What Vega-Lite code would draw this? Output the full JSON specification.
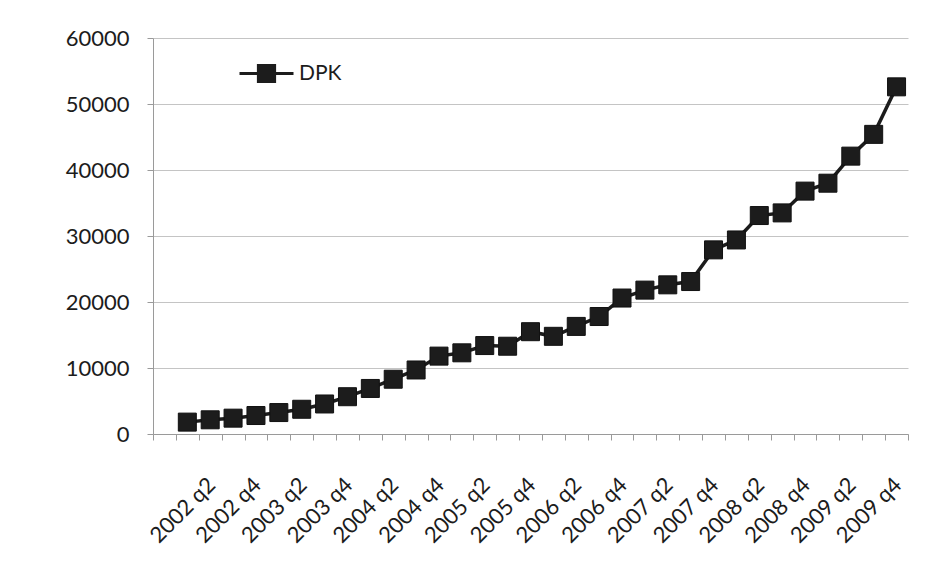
{
  "$schema": "https://vega.github.io/schema/vega-lite/v6.json",
  "autosize": "none",
  "width": 755,
  "height": 396,
  "padding": {"left": 153, "top": 38, "right": 31, "bottom": 133},
  "background": "#ffffff",
  "config": {
    "view": {"stroke": null},
    "font": "Lato",
    "axis": {
      "labelFont": "Lato",
      "labelFontSize": 22,
      "labelColor": "#1c1c1c",
      "title": null,
      "domainColor": "#9a9a9a",
      "tickColor": "#9a9a9a",
      "gridColor": "#c4c4c4",
      "gridWidth": 1
    }
  },
  "data": {
    "values": [
      {"quarter": "2002 q1", "DPK": 1800},
      {"quarter": "2002 q2", "DPK": 2150},
      {"quarter": "2002 q3", "DPK": 2400},
      {"quarter": "2002 q4", "DPK": 2800},
      {"quarter": "2003 q1", "DPK": 3250},
      {"quarter": "2003 q2", "DPK": 3750},
      {"quarter": "2003 q3", "DPK": 4550},
      {"quarter": "2003 q4", "DPK": 5650},
      {"quarter": "2004 q1", "DPK": 6900},
      {"quarter": "2004 q2", "DPK": 8300},
      {"quarter": "2004 q3", "DPK": 9700},
      {"quarter": "2004 q4", "DPK": 11800},
      {"quarter": "2005 q1", "DPK": 12300},
      {"quarter": "2005 q2", "DPK": 13400},
      {"quarter": "2005 q3", "DPK": 13300},
      {"quarter": "2005 q4", "DPK": 15500},
      {"quarter": "2006 q1", "DPK": 14800},
      {"quarter": "2006 q2", "DPK": 16300},
      {"quarter": "2006 q3", "DPK": 17800},
      {"quarter": "2006 q4", "DPK": 20600},
      {"quarter": "2007 q1", "DPK": 21800},
      {"quarter": "2007 q2", "DPK": 22600},
      {"quarter": "2007 q3", "DPK": 23100},
      {"quarter": "2007 q4", "DPK": 27900},
      {"quarter": "2008 q1", "DPK": 29400},
      {"quarter": "2008 q2", "DPK": 33100},
      {"quarter": "2008 q3", "DPK": 33500},
      {"quarter": "2008 q4", "DPK": 36800},
      {"quarter": "2009 q1", "DPK": 38000},
      {"quarter": "2009 q2", "DPK": 42100},
      {"quarter": "2009 q3", "DPK": 45400},
      {"quarter": "2009 q4", "DPK": 52600}
    ]
  },
  "encoding": {
    "x": {
      "field": "quarter",
      "type": "nominal",
      "sort": null,
      "scale": {
        "type": "band",
        "paddingInner": 0,
        "paddingOuter": 0,
        "domain": ["", "2002 q1", "2002 q2", "2002 q3", "2002 q4", "2003 q1", "2003 q2", "2003 q3", "2003 q4", "2004 q1", "2004 q2", "2004 q3", "2004 q4", "2005 q1", "2005 q2", "2005 q3", "2005 q4", "2006 q1", "2006 q2", "2006 q3", "2006 q4", "2007 q1", "2007 q2", "2007 q3", "2007 q4", "2008 q1", "2008 q2", "2008 q3", "2008 q4", "2009 q1", "2009 q2", "2009 q3", "2009 q4"]
      },
      "axis": {
        "labelAngle": -45,
        "labelAlign": "right",
        "labelBaseline": "top",
        "labelPadding": 34,
        "labelOffset": -6,
        "labelOverlap": false,
        "labelExpr": "test(/q[24]$/, datum.value) ? datum.value : ''",
        "tickBand": "extent",
        "tickSize": 6,
        "grid": false
      }
    },
    "y": {
      "field": "DPK",
      "type": "quantitative",
      "scale": {"domain": [0, 60000], "nice": false},
      "axis": {
        "values": [0, 10000, 20000, 30000, 40000, 50000, 60000],
        "format": "d",
        "tickSize": 6,
        "labelPadding": 18,
        "grid": true
      }
    },
    "color": {
      "datum": "DPK",
      "type": "nominal",
      "scale": {"range": ["#1c1c1c"]},
      "legend": {
        "title": null,
        "orient": "none",
        "legendX": 85,
        "legendY": 7,
        "padding": 0,
        "symbolType": "M-1,0H1M-0.3,-0.3H0.3V0.3H-0.3Z",
        "symbolSize": 2916,
        "symbolFillColor": "#1c1c1c",
        "symbolStrokeColor": "#1c1c1c",
        "symbolStrokeWidth": 3,
        "symbolOpacity": 1,
        "labelFont": "Lato",
        "labelFontSize": 21,
        "labelColor": "#1c1c1c",
        "labelOffset": 4
      }
    }
  },
  "layer": [
    {
      "mark": {"type": "line", "strokeWidth": 3.5, "color": "#1c1c1c"}
    },
    {
      "mark": {"type": "point", "shape": "square", "filled": true, "size": 324, "opacity": 1, "color": "#222222", "stroke": "#111111", "strokeWidth": 1}
    }
  ]
}
